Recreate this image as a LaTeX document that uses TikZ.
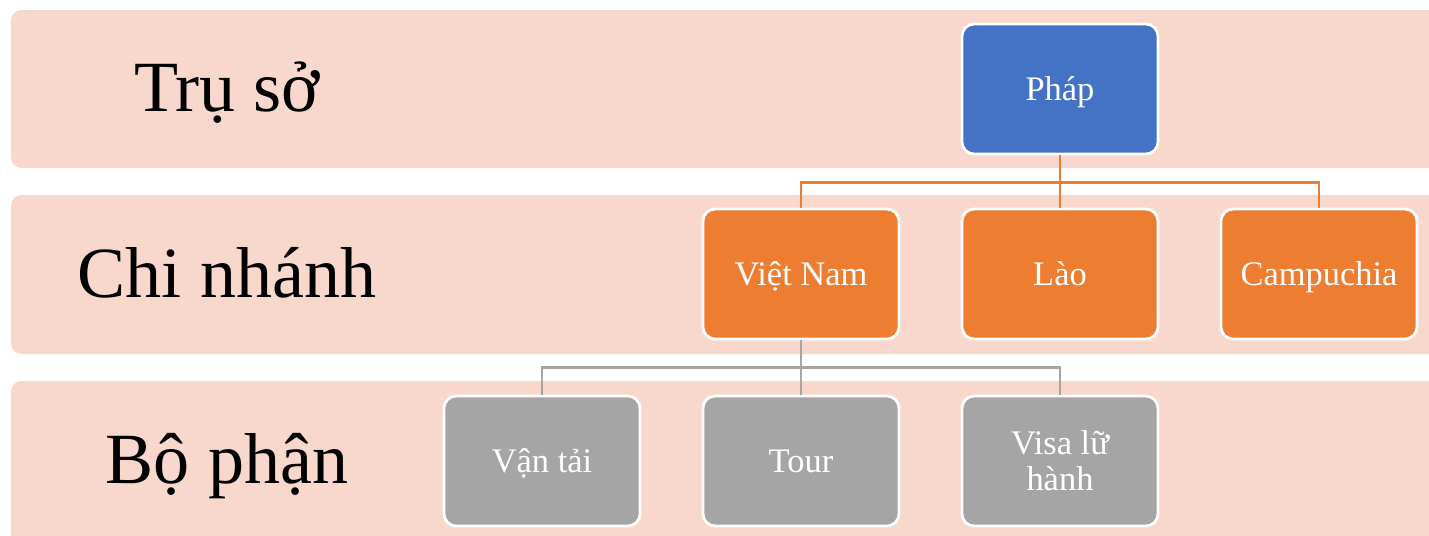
\documentclass[tikz,border=0pt]{standalone}
\usepackage{fontspec}
\setmainfont{Liberation Serif}
\usepackage{tikz}
\usetikzlibrary{calc}
\definecolor{bandpink}{HTML}{F8D7CD}
\definecolor{headblue}{HTML}{4472C4}
\definecolor{branchorange}{HTML}{ED7D31}
\definecolor{unitgrey}{HTML}{A5A5A5}
\tikzset{
	band/.style={fill=bandpink, rounded corners=3pt},
	level label/.style={font=\fontsize{20.5}{24}\selectfont, text=black, anchor=base},
	orgbox/.style={draw=white, line width=0.8pt, rounded corners=3.5pt,
		minimum width=1.96cm, minimum height=1.30cm, text=white,
		align=center, font=\fontsize{9.8}{10.2}\selectfont},
	one line/.style={text height=6.4pt, text depth=0pt},
	head/.style={orgbox, one line, fill=headblue},
	branch/.style={orgbox, one line, fill=branchorange},
	unit/.style={orgbox, fill=unitgrey},
	orangeline/.style={draw=branchorange, line width=0.6pt},
	greyline/.style={draw=unitgrey, line width=0.6pt}
}

\begin{document}
\begin{tikzpicture}[x=0.01cm, y=-0.01cm]
		\clip (0,0) rectangle (1429,536);
	
		% bands
		\fill [band] (11,10) rectangle (1460,168);
		\fill [band] (11,195) rectangle (1460,354);
		\fill [band] (11,381) rectangle (1460,560);
	
		\node [level label] (l1) at (227,111) {Trụ sở};
		\node [level label] (l2) at (227,297) {Chi nhánh};
		\node [level label] (l3) at (227,483) {Bộ phận};
	
		% boxes
		\node [head] (phap) at (1060,89) {Pháp};
	
		\node [branch] (vn) at (801,274) {Việt Nam};
		\node [branch] (lao) at (1060,274) {Lào};
		\node [branch] (cam) at (1319,274) {Campuchia};
	
		\node [unit, one line] (vt) at (542,461) {Vận tải};
		\node [unit, one line] (tour) at (801,461) {Tour};
		\node [unit] (visa) at (1060,461) {Visa lữ\\hành};
	
		% connectors
		\draw [orangeline] (phap.south) -- ++(0,27) coordinate (bus1);
		\draw [orangeline] (bus1) -| (vn.north);
		\draw [orangeline] (bus1) -| (cam.north);
		\draw [orangeline] (bus1) -- (lao.north);
	
		\draw [greyline] (vn.south) -- ++(0,27) coordinate (bus2);
		\draw [greyline] (bus2) -| (vt.north);
		\draw [greyline] (bus2) -| (visa.north);
		\draw [greyline] (bus2) -- (tour.north);
	
	\end{tikzpicture}
\end{document}
